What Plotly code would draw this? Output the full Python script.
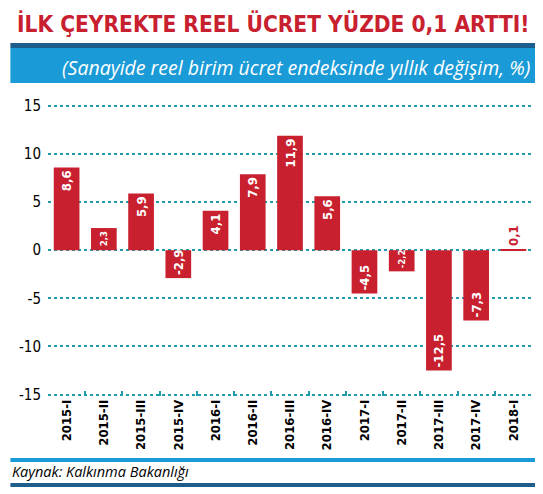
import plotly.graph_objects as go

quarters = ["2015-I", "2015-II", "2015-III", "2015-IV", "2016-I", "2016-II", "2016-III",
            "2016-IV", "2017-I", "2017-II", "2017-III", "2017-IV", "2018-I"]
values = [8.6, 2.3, 5.9, -2.9, 4.1, 7.9, 11.9, 5.6, -4.5, -2.2, -12.5, -7.3, 0.1]
y_ticks = [15, 10, 5, 0, -5, -10, -15]

RED = "#c8202f"
TEAL = "#1f9bab"
DARK_BLUE = "#1d5e8c"
LIGHT_BLUE = "#1a9bd7"
COND = "DejaVu Sans Condensed"

labels = [("%.1f" % v).replace(".", ",") for v in values]
positions = ["outside" if abs(v) < 1 else "inside" for v in values]
colors = [RED if abs(v) < 1 else "white" for v in values]
# short bars get a smaller label so it still fits inside the bar
sizes = [13 if abs(v) >= 2.5 or abs(v) < 1 else 9.5 for v in values]

# the page body has an 8px margin, so the figure is 8px smaller both ways
W, H = 535, 486
L, T, R, B = 35, 93, 11, 98
PW, PH = W - L - R, H - T - B


def px(x):
    return (x - 8 - L) / PW


def py(y):
    return (T + PH - (y - 8)) / PH


fig = go.Figure()
fig.add_trace(go.Bar(
    x=quarters, y=values,
    marker_color=RED, marker_line_width=0,
    text=labels, textposition=positions, textangle=-90,
    insidetextanchor="end", constraintext="none",
    textfont=dict(family=COND, size=sizes, color=colors, weight="bold"),
    cliponaxis=False,
))

band = dict(type="rect", xref="x domain", yref="y domain", line_width=0,
            x0=px(5), x1=px(540))

fig.update_layout(
    width=W, height=H,
    margin=dict(l=L, r=R, t=T, b=B),
    paper_bgcolor="white", plot_bgcolor="white",
    bargap=0.31, showlegend=False,
    xaxis=dict(
        showgrid=False, ticks="inside", tickson="boundaries", ticklen=5,
        tickcolor=TEAL, tickwidth=1.5, tickangle=-90,
        tickfont=dict(family=COND, size=13, color="black", weight="bold"),
        showline=False, zeroline=False,
    ),
    yaxis=dict(
        range=[-15.15, 15.5], tickvals=y_ticks, ticktext=[str(t) for t in y_ticks],
        showgrid=True, gridcolor=TEAL, griddash="dot", gridwidth=2,
        zeroline=False, showline=False, ticks="", ticklabelstandoff=6,
        tickfont=dict(family=COND, size=15, color="black"),
    ),
    shapes=[
        dict(band, y0=py(43), y1=py(48), fillcolor=DARK_BLUE),
        dict(band, y0=py(48), y1=py(83), fillcolor=LIGHT_BLUE),
        dict(band, y0=py(458), y1=py(462), fillcolor=LIGHT_BLUE),
        dict(band, y0=py(483), y1=py(487), fillcolor=DARK_BLUE),
    ],
    annotations=[
        dict(text="İLK ÇEYREKTE REEL ÜCRET YÜZDE 0,1 ARTTI!", xref="x domain", yref="y domain",
             x=px(271), y=py(24), xanchor="center", yanchor="middle", showarrow=False,
             font=dict(family=COND, size=22.5, color=RED, weight="bold")),
        dict(text="<i>(Sanayide reel birim ücret endeksinde yıllık değişim, %)</i>",
             xref="x domain", yref="y domain", x=px(532), y=py(67),
             xanchor="right", yanchor="middle", showarrow=False,
             font=dict(family="Open Sans", size=19.5, color="white")),
        dict(text="<i>Kaynak: Kalkınma Bakanlığı</i>", xref="x domain", yref="y domain",
             x=px(5), y=py(471), xanchor="left", yanchor="middle", showarrow=False,
             font=dict(family="Open Sans", size=14.5, color="black")),
    ],
)

fig.write_html("out.html")
